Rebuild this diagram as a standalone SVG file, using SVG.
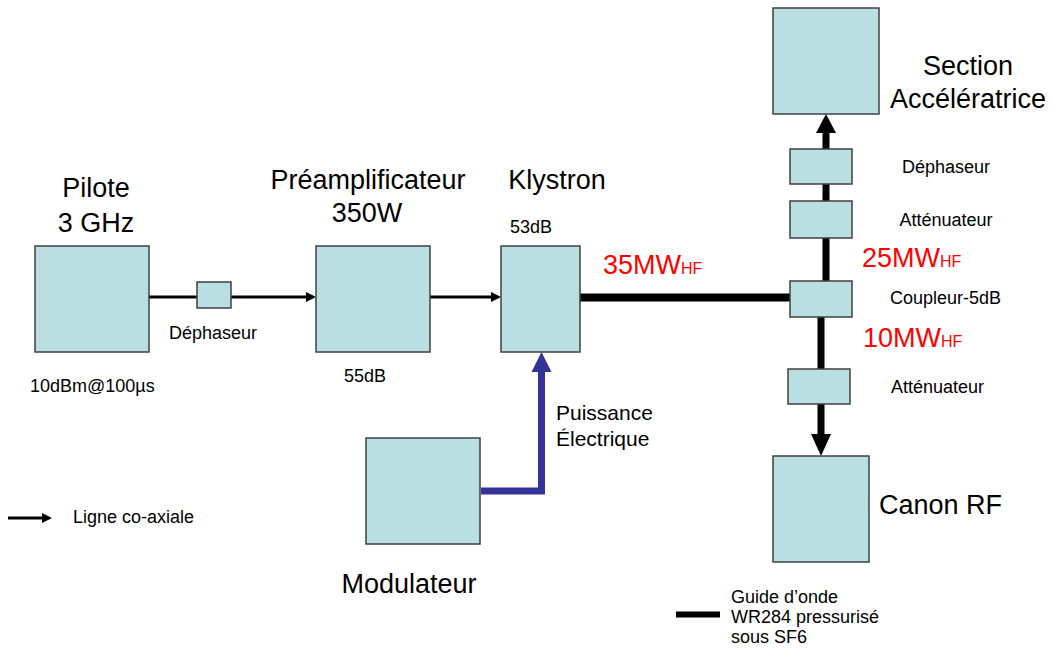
<svg xmlns="http://www.w3.org/2000/svg" width="1051" height="650" viewBox="0 0 1051 650">
<style>
.box{fill:#b9dfe2;stroke:#404040;stroke-width:1.5}
text{font-family:"Liberation Sans",Arial,sans-serif;fill:#000}
.t{font-size:27px}
.s{font-size:18px}
.p{font-size:21px}
.r{font-size:27px;fill:#ff0000}
.r tspan{font-size:16px;fill:#ff0000}
.coax{stroke:#000;stroke-width:3;fill:none}
.wg{stroke:#000;stroke-width:8;fill:none}
.blue{stroke:#333399;stroke-width:7;fill:none}
</style>
<defs>
<marker id="ah" markerUnits="userSpaceOnUse" markerWidth="10" markerHeight="10" refX="7" refY="5" orient="auto">
<path d="M0,0 L10,5 L0,10 z" fill="#000"/>
</marker>
</defs>
<rect width="1051" height="650" fill="#fff"/>

<g id="connectors">
<line class="coax" x1="149" y1="297" x2="197" y2="297"/>
<line class="coax" x1="231" y1="297" x2="313" y2="297" marker-end="url(#ah)"/>
<line class="coax" x1="430" y1="297" x2="498" y2="297" marker-end="url(#ah)"/>
<line class="wg" x1="580" y1="297.5" x2="790" y2="297.5"/>
<line stroke="#000" stroke-width="7" x1="826" y1="281" x2="826" y2="130"/>
<polygon points="816,133 836,133 826,114" fill="#000"/>
<line stroke="#000" stroke-width="7" x1="821" y1="317" x2="821" y2="437"/>
<polygon points="811,434 831,434 821,456" fill="#000"/>
<polyline class="blue" points="481,491 541.5,491 541.5,368"/>
<polygon points="531.5,372 551.5,372 541.5,352" fill="#333399"/>
<line class="coax" x1="8" y1="518" x2="49" y2="518" marker-end="url(#ah)"/>
<line stroke="#000" stroke-width="6" x1="676" y1="614.5" x2="720" y2="614.5"/>
</g>

<g id="pilote">
<rect class="box" x="35" y="246" width="114" height="106"/>
<text class="t" x="96" y="197" text-anchor="middle">Pilote</text>
<text class="t" x="96" y="232" text-anchor="middle">3 GHz</text>
<text class="s" x="30" y="392">10dBm@100µs</text>
</g>

<g id="dephaseur1">
<rect class="box" x="197" y="282" width="34" height="26"/>
<text class="s" x="213" y="339" text-anchor="middle">Déphaseur</text>
</g>

<g id="preamplificateur">
<rect class="box" x="316" y="246" width="114" height="106"/>
<text class="t" x="368" y="189" text-anchor="middle">Préamplificateur</text>
<text class="t" x="367" y="222" text-anchor="middle">350W</text>
<text class="s" x="344" y="382">55dB</text>
</g>

<g id="klystron">
<rect class="box" x="501" y="246" width="79" height="106"/>
<text class="t" x="557" y="189" text-anchor="middle">Klystron</text>
<text class="s" x="510" y="233">53dB</text>
</g>

<g id="p35">
<text class="r" x="603" y="274">35MW<tspan>HF</tspan></text>
</g>

<g id="modulateur">
<rect class="box" x="366" y="438" width="114" height="106"/>
<text class="t" x="409" y="593" text-anchor="middle">Modulateur</text>
</g>

<g id="puissance">
<text class="p" x="556" y="420">Puissance</text>
<text class="p" x="556" y="446">Électrique</text>
</g>

<g id="section">
<rect class="box" x="773" y="8" width="106" height="106"/>
<text class="t" x="968" y="75" text-anchor="middle">Section</text>
<text class="t" x="968" y="108" text-anchor="middle">Accélératrice</text>
</g>

<g id="dephaseur2">
<rect class="box" x="790" y="149" width="62" height="35"/>
<text class="s" x="946" y="173" text-anchor="middle">Déphaseur</text>
</g>

<g id="attenuateur1">
<rect class="box" x="790" y="201" width="62" height="37"/>
<text class="s" x="946" y="226" text-anchor="middle">Atténuateur</text>
</g>

<g id="p25">
<text class="r" x="862" y="267">25MW<tspan>HF</tspan></text>
</g>

<g id="coupleur">
<rect class="box" x="790" y="281" width="62" height="36"/>
<text class="s" x="890" y="304">Coupleur-5dB</text>
</g>

<g id="p10">
<text class="r" x="863" y="347">10MW<tspan>HF</tspan></text>
</g>

<g id="attenuateur2">
<rect class="box" x="788" y="369" width="62" height="35"/>
<text class="s" x="891" y="393">Atténuateur</text>
</g>

<g id="canon">
<rect class="box" x="773" y="456" width="96" height="106"/>
<text class="t" x="879" y="514">Canon RF</text>
</g>

<g id="legende">
<text class="s" x="73" y="523">Ligne co-axiale</text>
<text class="s" x="731" y="603">Guide d’onde</text>
<text class="s" x="731" y="623">WR284 pressurisé</text>
<text class="s" x="731" y="643">sous SF6</text>
</g>
</svg>
